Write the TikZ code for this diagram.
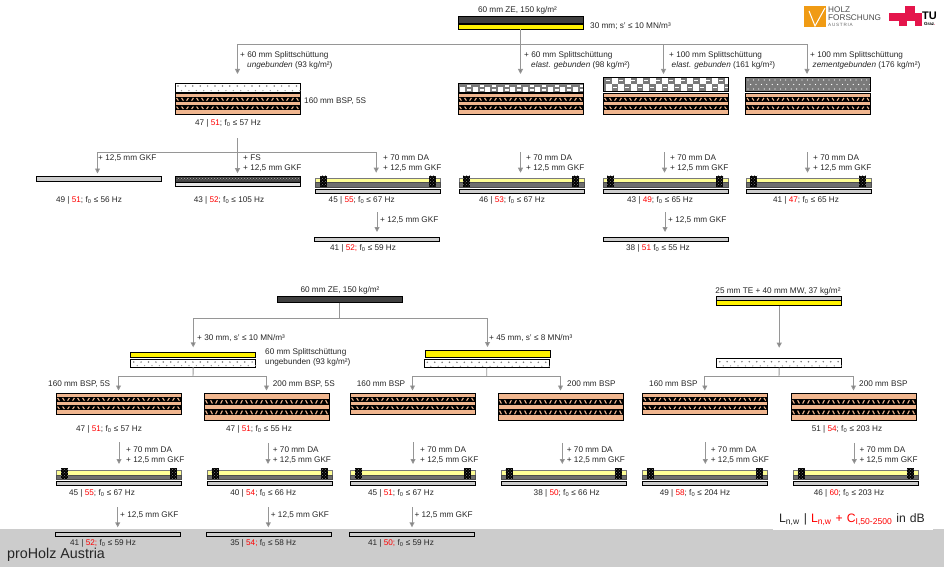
\documentclass[tikz,border=0pt]{standalone}
\usepackage{xcolor}
\usepackage{fontspec}
\setmainfont{Liberation Sans}
\usetikzlibrary{arrows.meta, positioning, calc, patterns}
\definecolor{txtcol}{RGB}{38,38,38}
\definecolor{conncol}{RGB}{150,150,150}
\definecolor{cltcol}{RGB}{240,182,143}
\definecolor{zecol}{RGB}{64,64,64}
\definecolor{dacol}{RGB}{255,255,150}
\definecolor{gkfcol}{RGB}{205,205,205}
\definecolor{bandcol}{RGB}{204,204,204}
\definecolor{splitcol}{RGB}{122,122,122}
\definecolor{hfacol}{RGB}{240,155,20}
\definecolor{tucol}{RGB}{228,21,75}
\tikzset{
  lbl/.style={anchor=west, inner sep=0pt, align=left, text=txtcol,
              font=\fontsize{8.2}{10}\selectfont},
  res/.style={lbl, anchor=center},
  layer/.style={draw=black, line width=.7pt, minimum width=125pt, inner sep=0pt,
                outer sep=0pt, anchor=north west},
  stack/.style={minimum width=125pt, inner sep=0pt, outer sep=0pt, anchor=north west},
  conn/.style={draw=conncol, line width=.9pt},
  arr/.style={conn, -{Triangle[length=5pt,width=5pt,fill=gray]}},
}
\newcommand{\rd}[1]{\textcolor{red}{#1}}
\newcommand{\ft}[1]{f\textsubscript{0} ≤ #1 Hz}
% band with the crossing lamellae
\newcommand{\bspband}[2]{
  \fill[black] (0,#1) rectangle (125,#1+#2);
  \foreach \n in {0,...,24} {
    \pgfmathsetmacro{\tick}{mod(\n,4)<2 ? .9 : -.9}
    \draw[cltcol, line width=1.1pt] ({2.5+5*\n-\tick},{#1+1.2}) -- ({2.5+5*\n+\tick},{#1+#2-1.2});
  }
}
\newcommand{\bspk}[3]{
  \begin{scope}[shift={(#2,#3)}]
    \node[layer, fill=cltcol, minimum height=21pt] (#1) at (0,0) {};
    \bspband{3.8}{5}
    \bspband{12.4}{4.8}
    \draw[line width=.7pt] (0,0) rectangle (125,21);
  \end{scope}
}
\newcommand{\bspg}[3]{
  \begin{scope}[shift={(#2,#3)}]
    \node[layer, fill=cltcol, minimum height=27.5pt] (#1) at (0,0) {};
    \bspband{6}{5.7}
    \bspband{16.4}{6}
    \draw[line width=.7pt] (0,0) rectangle (125,27.5);
  \end{scope}
}
% loose fill, white with grey grains
\newcommand{\loose}[4]{
  \begin{scope}[shift={(#2,#3)}]
    \node[layer, fill=white, minimum height=#4pt] (#1) at (0,0) {};
    \foreach \n in {0,...,16} {
      \fill[splitcol] ({3+7.4*\n},3) circle (.85);
      \fill[splitcol!80] ({6.5+7.4*\n},#4-1.4) circle (.7);
    }
  \end{scope}
}
\newcommand{\gkf}[3]{
  \node[layer, fill=gkfcol, minimum height=4.5pt] (#1) at (#2,#3) {};
}
\newcommand{\dablock}[1]{
  \fill[black] (#1,0) rectangle ++(7,11);
  \fill[pattern=crosshatch dots, pattern color=gray] (#1,0) rectangle ++(7,11);
}
\newcommand{\daboard}[3]{
  \begin{scope}[shift={(#2,#3)}]
    \node[stack, minimum height=17.6pt] (#1) at (0,0) {};
    \draw[fill=dacol, draw=splitcol, line width=.6pt] (0,2.3) rectangle (125,7);
    \draw[fill=splitcol!90!black, draw=black!70, line width=.6pt] (0,7) rectangle (125,11.7);
    \draw[fill=gkfcol, line width=.7pt] (0,13.3) rectangle (125,17.6);
    \dablock{4.3}
    \dablock{113.3}
  \end{scope}
}
\begin{document}
\begin{tikzpicture}[x=1pt,y=-1pt]
  \useasboundingbox (0,0) rectangle (944,567);
  \fill[bandcol] (0,529) rectangle (944,567);
  \node[lbl, font=\fontsize{14.3}{16}\selectfont] (brand) at (7,555) {proHolz Austria};

  % logos
  \fill[hfacol] (804,5.7) rectangle (826,27);
  \draw[white, line width=1pt] (809,11) -- (815,26) -- (825,8);
  \node[lbl, text=black!70] (hfaA) at (828,10) {HOLZ};
  \node[lbl, text=black!70] (hfaB) at (828,18) {FORSCHUNG};
  \node[lbl, text=black!60, font=\fontsize{4.6}{5}\selectfont] (hfaC) at (828,25) {A\,U\,S\,T\,R\,I\,A};
  \fill[tucol] (889,12.7) rectangle (899,20.7);
  \fill[tucol] (899,12.7) rectangle (906.7,26);
  \fill[tucol] (905,6) rectangle (915,20.7);
  \fill[tucol] (915,13.3) rectangle (921.5,26);
  \node[lbl, text=black, font=\bfseries\fontsize{11}{12}\selectfont] (tuA) at (922,16) {TU};
  \node[lbl, text=black, font=\bfseries\fontsize{4.5}{5}\selectfont] (tuB) at (924,24) {Graz\textcolor{tucol}{.}};

  % first group, screed on top
  \node[layer, fill=zecol, minimum height=6.5pt] (zeA) at (458,16.5) {};
  \node[layer, fill=yellow, minimum height=5.5pt] (ssA) at (458,24) {};
  \node[res] (zeAtxt) at (517.5,10) {60 mm ZE, 150 kg/m²};
  \node[lbl] (ssAtxt) at (590,26.5) {30 mm; s' ≤ 10 MN/m³};

  % fills over the panels
  \node[stack, minimum height=31pt] (pA) at (175,83) {};
  \loose{fillA}{175}{83}{9}
  \bspk{bspA}{175}{93}
  \node[stack, minimum height=31pt] (pB) at (458,83) {};
  \fill[splitcol] (458,83.5) rectangle ++(125,8.5);
  \foreach \n in {0,...,9} {
    \fill[white] ({460+12.5*\n},87) rectangle ++(5,5);
    \fill[white] ({467+12.5*\n},85) rectangle ++(4,1.6);
    \fill[white] ({467+12.5*\n},89.5) rectangle ++(4,1.4);
  }
  \draw[line width=.7pt] (458,83.5) rectangle ++(125,8.5);
  \bspk{bspB}{458}{93}
  \node[stack, minimum height=37pt] (pC) at (603,77) {};
  \fill[splitcol] (603,77) rectangle ++(125,14.7);
  \foreach \n in {0,...,9} {
    \fill[white] ({612+12.5*\n},78) rectangle ++(6,6.2);
    \fill[white] ({605.5+12.5*\n},84.5) rectangle ++(6,6.2);
    \fill[white] ({606+12.5*\n},80) rectangle ++(4,1.5);
    \fill[white] ({612.5+12.5*\n},87) rectangle ++(4,1.5);
  }
  \draw[line width=.7pt] (603,77) rectangle ++(125,14.7);
  \bspk{bspC}{603}{93}
  \node[stack, minimum height=37pt] (pD) at (745.5,77) {};
  \fill[splitcol] (745.5,77) rectangle ++(125,14.7);
  \foreach \n in {0,...,22} \foreach \r/\o in {80/0,84.5/2.6,89/0}
    \fill[white] ({748+5.4*\n+\o},\r) circle (.65);
  \draw[line width=.7pt] (745.5,77) rectangle ++(125,14.7);
  \bspk{bspD}{745.5}{93}

  % boards below
  \gkf{gkA}{36}{176.5}
  \node[stack, minimum height=10.5pt] (fsA) at (175,176.2) {};
  \fill[zecol] (175,176.5) rectangle ++(125,5.4);
  \fill[pattern=crosshatch dots, pattern color=white!70!black] (175,177.7) rectangle ++(125,3);
  \draw[line width=.7pt] (175,176.5) rectangle ++(125,5.4);
  \draw[fill=gkfcol!50, line width=.7pt] (175,182.3) rectangle ++(125,4.4);
  \daboard{daA}{315.7}{175.7}
  \gkf{gkB}{314}{237}
  \daboard{daB}{459}{175.7}
  \daboard{daC}{603}{175.7}
  \gkf{gkC}{603}{237}
  \daboard{daD}{746}{175.7}

  % connectors, first group
  \coordinate (busA) at (520.5,44.5);
  \coordinate (busB) at (237.5,152);
  \draw[arr, shorten >=9pt] (zeA.south |- ssA.south) -- (pB.north);
  \draw[arr, shorten >=9pt] (busA) -| (pA.north);
  \draw[arr, shorten >=3pt] (busA) -| ([xshift=-2pt]pC.north);
  \draw[arr, shorten >=3pt] (busA) -| ([xshift=-1pt]pD.north);
  \draw[arr, shorten <=24pt, shorten >=3pt] (pA.south) -- (fsA.north);
  \draw[arr, shorten >=3pt] (busB) -| ([xshift=-1pt]gkA.north);
  \draw[arr, shorten >=3pt] (busB) -| ([xshift=-2pt]daA.north);
  \foreach \a/\b/\x in {pB/daB/520.5, pC/daC/664.5, pD/daD/807.5}
    \draw[arr, shorten <=38pt, shorten >=3pt] (\x,0 |- \a.south) -- (\x,0 |- \b.north);
  \foreach \a/\b/\x in {daA/gkB/377, daC/gkC/665}
    \draw[arr, shorten <=18.7pt, shorten >=5pt] (\x,0 |- \a.south) -- (\x,0 |- \b.north);

  \node[lbl] (upA) at (240,60.5) {+ 60 mm Splittschüttung\\\hspace*{7pt}\textit{ungebunden} (93 kg/m²)};
  \node[lbl] (upB) at (524,60.5) {+ 60 mm Splittschüttung\\\hspace*{7pt}\textit{elast. gebunden} (98 kg/m²)};
  \node[lbl] (upC) at (669,60.5) {+ 100 mm Splittschüttung\\\hspace*{2.5pt}\textit{elast. gebunden} (161 kg/m²)};
  \node[lbl] (upD) at (810,60.5) {+ 100 mm Splittschüttung\\\hspace*{2.5pt}\textit{zementgebunden} (176 kg/m²)};
  \node[lbl] (bspAtxt) at (304,101) {160 mm BSP, 5S};
  \node[lbl] (gkAtxt) at (98,158) {+ 12,5 mm GKF};
  \node[lbl] (fsAtxt) at (243,163) {+ FS\\+ 12,5 mm GKF};
  \foreach \n/\x in {1/383, 2/526, 3/670, 4/813}
    \node[lbl] (daTxt\n) at (\x,163) {+ 70 mm DA\\+ 12,5 mm GKF};
  \foreach \n/\x in {1/380, 2/668}
    \node[lbl] (gkTxt\n) at (\x,220) {+ 12,5 mm GKF};

  % second group
  \node[layer, fill=zecol, minimum height=6.7pt] (zeB) at (277,296) {};
  \node[res] (zeBtxt) at (340,290) {60 mm ZE, 150 kg/m²};
  \node[layer, fill=yellow, minimum height=5.4pt] (ssB) at (130.7,352.3) {};
  \loose{fillB}{130.7}{359}{8}
  \node[layer, fill=yellow, minimum height=7pt] (ssC) at (425,350.7) {};
  \loose{fillC}{424.3}{359.3}{8.4}
  \node[layer, fill=gkfcol, minimum height=4pt] (teA) at (716.7,296) {};
  \node[layer, fill=yellow, minimum height=5.7pt] (mwA) at (716.7,300) {};
  \node[res] (teAtxt) at (778,291) {25 mm TE + 40 mm MW, 37 kg/m²};
  \loose{fillD}{716.7}{358.7}{8.6}

  \bspk{bspE}{56}{393}
  \bspg{bspF}{204}{393}
  \bspk{bspG}{350}{393}
  \bspg{bspH}{498}{393}
  \bspk{bspI}{642.3}{393}
  \bspg{bspJ}{791}{393}
  \foreach \n/\x in {E/56.7, F/207.3, G/350.7, H/501.3, I/642.7, J/793.3}
    {\daboard{da\n}{\x}{468}}
  \foreach \n/\x in {E/55, F/206.7, G/349.3}
    {\gkf{gk\n}{\x}{532.3}}

  % connectors, second group
  \coordinate (busC) at (339.5,318);
  \coordinate (busD) at (193,376.5);
  \coordinate (busE) at (486.7,376.5);
  \coordinate (busF) at (779,376.5);
  \draw[conn] (zeB.south) -- (busC);
  \draw[arr, shorten >=5pt] (busC) -| (ssB.north);
  \draw[arr, shorten >=3.7pt] (busC) -| (ssC.north);
  \draw[conn] (fillB.south) -- (busD);
  \draw[conn] (fillC.south) -- (busE);
  \draw[conn] (fillD.south) -- (busF);
  \draw[arr, shorten >=11pt] (mwA.south) -- (fillD.north);
  \draw[arr, shorten >=2.5pt] (busD) -| (bspE.north);
  \draw[arr, shorten >=2.5pt] (busD) -| (bspF.north);
  \draw[arr, shorten >=2.5pt] (busE) -| (bspG.north);
  \draw[arr, shorten >=2.5pt] (busE) -| (bspH.north);
  \draw[arr, shorten >=2.5pt] (busF) -| (bspI.north);
  \draw[arr, shorten >=2.5pt] (busF) -| (bspJ.north);
  \foreach \a/\b/\x/\s in {bspE/daE/119/28, bspF/daF/268/22.3, bspG/daG/413/28,
                           bspH/daH/562.3/22.3, bspI/daI/705.3/28, bspJ/daJ/854.3/22.3}
    \draw[arr, shorten <=\s pt, shorten >=4pt] (\x,0 |- \a.south) -- (\x,0 |- \b.north);
  \foreach \a/\b/\x in {daE/gkE/117.7, daF/gkF/268.3, daG/gkG/412}
    \draw[arr, shorten <=21.7pt, shorten >=5pt] (\x,0 |- \a.south) -- (\x,0 |- \b.north);

  \node[lbl] (ssBtxt) at (197,338) {+ 30 mm, s' ≤ 10 MN/m³};
  \node[lbl] (ssCtxt) at (489,338) {+ 45 mm, s' ≤ 8 MN/m³};
  \node[lbl] (fillBtxt) at (265,357) {60 mm Splittschüttung\\ungebunden (93 kg/m²)};
  \node[lbl] (bspEtxt) at (48,384) {160 mm BSP, 5S};
  \node[lbl] (bspFtxt) at (272.7,384) {200 mm BSP, 5S};
  \node[lbl] (bspGtxt) at (356.7,384) {160 mm BSP};
  \node[lbl] (bspHtxt) at (567,384) {200 mm BSP};
  \node[lbl] (bspItxt) at (649,384) {160 mm BSP};
  \node[lbl] (bspJtxt) at (859,384) {200 mm BSP};
  \foreach \n/\x in {1/126, 2/272.7, 3/420, 4/566.7, 5/710.7, 6/859.3}
    \node[lbl] (daLow\n) at (\x,455) {+ 70 mm DA\\+ 12,5 mm GKF};
  \foreach \n/\x in {1/120, 2/270.7, 3/414.3}
    \node[lbl] (gkLow\n) at (\x,515) {+ 12,5 mm GKF};

  % results
  \foreach \x/\y/\t [count=\n] in {
    228/123/{47 | \rd{51}; \ft{57}}, 89/200/{49 | \rd{51}; \ft{56}},
    229/200/{43 | \rd{52}; \ft{105}}, 361.7/200/{45 | \rd{55}; \ft{67}},
    363/248/{41 | \rd{52;} \ft{59}}, 512/200/{46 | \rd{53}; \ft{67}},
    660/200/{43 | \rd{49}; \ft{65}}, 658/248/{38 | \rd{51} \ft{55}},
    806/200/{41 | \rd{47}; \ft{65}}, 109/429/{47 | \rd{51}; \ft{57}},
    259/429/{47 | \rd{51}; \ft{55}}, 847/429/{51 | \rd{54}; \ft{203}},
    102/493/{45 | \rd{55}; \ft{67}}, 263.3/493/{40 | \rd{54}; \ft{66}},
    401/493/{45 | \rd{51}; \ft{67}}, 566.7/493/{38 | \rd{50}; \ft{66}},
    695/493/{49 | \rd{58}; \ft{204}}, 849/493/{46 | \rd{60}; \ft{203}},
    103/543.5/{41 | \rd{52;} \ft{59}}, 263.3/543.5/{35 | \rd{54;} \ft{58}},
    401/543.5/{41 | \rd{50;} \ft{59}}}
    \node[res] (res\n) at (\x,\y) {\t};

  % legend
  \node[anchor=south west, fill=white, inner xsep=6pt, inner ysep=0pt, text width=148pt, minimum height=20pt,
        font=\fontsize{12.2}{14}\selectfont, text=txtcol] (legend) at (773,530)
    {L\textsubscript{n,w} | \rd{L\textsubscript{n,w} + C\textsubscript{I,50-2500}} in dB};
\end{tikzpicture}
\end{document}
